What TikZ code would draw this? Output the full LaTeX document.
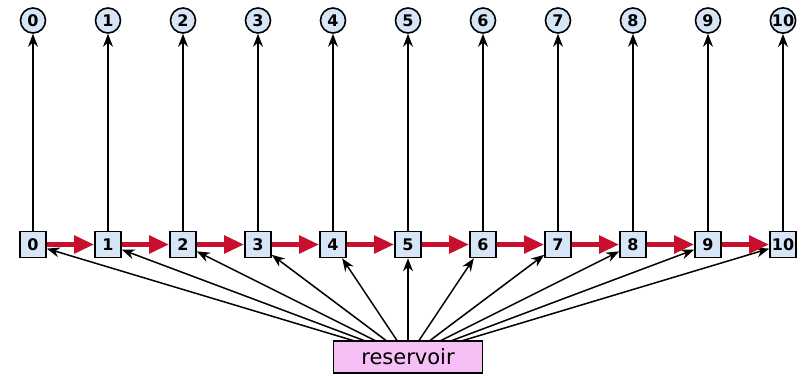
\documentclass[tikz,border=0pt]{standalone}
\usepackage{fontspec}
\setmainfont{DejaVu Sans}
\usetikzlibrary{arrows.meta}
\definecolor{boxblue}{RGB}{214,230,246}
\definecolor{respink}{RGB}{246,192,246}
\definecolor{arrred}{RGB}{200,16,46}
\tikzset{
  sq/.style={draw, line width=1.6pt, fill=boxblue, minimum width=26pt, minimum height=26pt, inner sep=0pt, font=\bfseries\fontsize{16}{16}\selectfont},
  circ/.style={draw, line width=1.6pt, circle, fill=boxblue, minimum size=25pt, inner sep=0pt, font=\bfseries\fontsize{16}{16}\selectfont},
  res/.style={draw, line width=1.6pt, fill=respink, minimum width=149pt, minimum height=32pt, inner sep=0pt, font=\fontsize{21}{21}\selectfont},
  up/.style={-{Stealth[length=13pt,width=10pt]}, line width=1.5pt},
  feed/.style={-{Stealth[length=13pt,width=10pt]}, line width=1.5pt},
  chain/.style={-{Triangle[length=20pt,width=17pt]}, line width=5.5pt, arrred},
}
\begin{document}
\begin{tikzpicture}[x=1pt,y=-1pt]
\useasboundingbox (0,0) rectangle (809,377);
\node[res] (r) at (408,357) {reservoir};
\foreach \i in {0,...,10}{
  \node[sq] (b\i) at ({33+75*\i},244.5) {\i};
  \node[circ] (c\i) at ({33+75*\i},20.5) {\i};
  \draw[up] (b\i) -- (c\i);
  \draw[feed] (r.center) -- (b\i);
}
\foreach \i [evaluate=\i as \j using int(\i+1)] in {0,...,9}{
  \draw[chain] (b\i) -- (b\j);
}
\node[res] at (408,357) {reservoir};
\end{tikzpicture}
\end{document}
